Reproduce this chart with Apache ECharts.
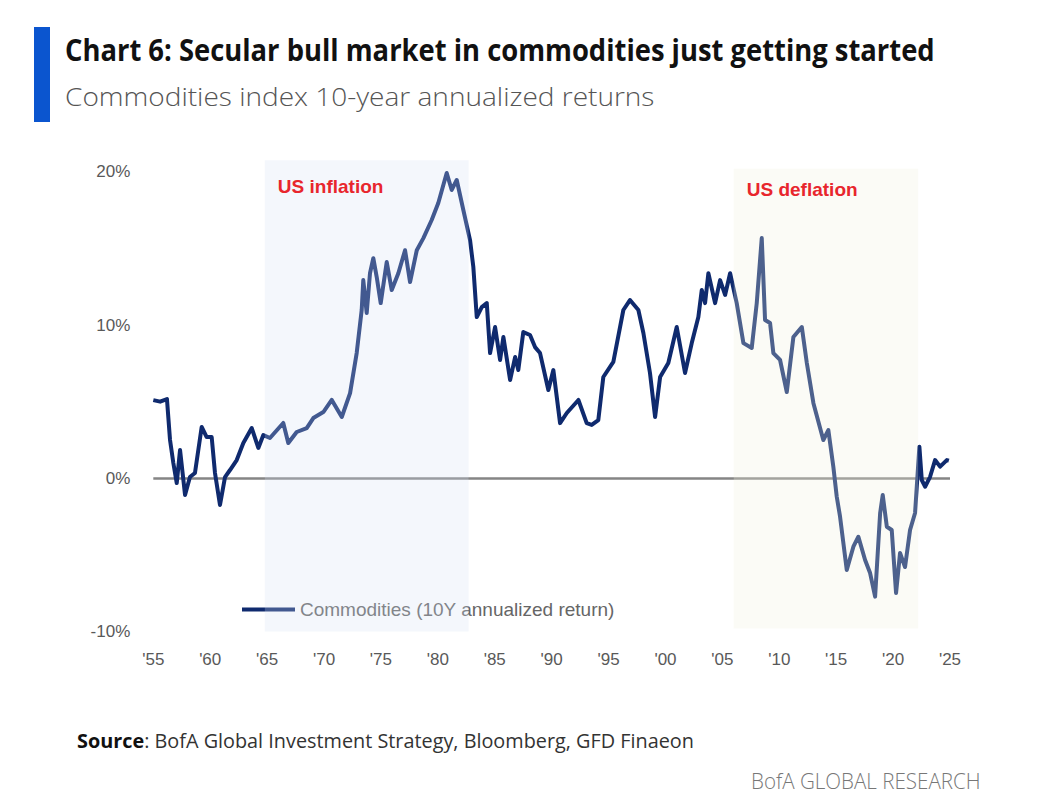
<!DOCTYPE html>
<html>
<head>
<meta charset="utf-8">
<title>Chart 6: Secular bull market in commodities</title>
<script src="https://cdn.jsdelivr.net/npm/echarts/dist/echarts.min.js"></script>
<style>
html, body { margin: 0; padding: 0; background: #fff; }
#main { width: 1049px; height: 808px; }
</style>
</head>
<body>
<div id="main"></div>
<script>
// 数据: 商品指数10年年化回报 (%)
var years = [
    1955.0, 1955.6, 1956.2, 1956.47, 1956.76, 1957.06, 1957.35, 1957.79, 1958.22, 1958.66,
    1959.25, 1959.69, 1960.13, 1960.42, 1960.86, 1961.3, 1961.74, 1962.33, 1962.91, 1963.65,
    1964.23, 1964.67, 1965.25, 1966.42, 1966.86, 1967.6, 1968.48, 1969.06, 1969.94, 1970.68,
    1971.56, 1972.29, 1972.87, 1973.31, 1973.45, 1973.75, 1974.04, 1974.33, 1974.63, 1974.98,
    1975.51, 1975.95, 1976.53, 1977.12, 1977.56, 1978.15, 1978.73, 1979.46, 1980.04, 1980.78,
    1981.22, 1981.66, 1982.24, 1982.83, 1983.12, 1983.42, 1983.86, 1984.3, 1984.59, 1985.03,
    1985.47, 1985.76, 1986.35, 1986.79, 1987.07, 1987.51, 1988.1, 1988.54, 1988.98, 1989.71,
    1990.15, 1990.74, 1991.33, 1992.35, 1993.08, 1993.52, 1994.1, 1994.54, 1995.42, 1996.3,
    1996.88, 1997.62, 1998.06, 1998.64, 1999.09, 1999.53, 2000.25, 2000.99, 2001.72, 2002.31,
    2002.89, 2003.19, 2003.48, 2003.77, 2004.36, 2004.8, 2005.24, 2005.68, 2006.26, 2006.85,
    2007.58, 2008.02, 2008.46, 2008.75, 2009.19, 2009.48, 2010.07, 2010.66, 2011.24, 2011.98,
    2012.42, 2013.0, 2013.87, 2014.31, 2014.75, 2015.05, 2015.34, 2015.93, 2016.51, 2016.95,
    2017.54, 2017.98, 2018.42, 2018.86, 2019.09, 2019.45, 2019.88, 2020.26, 2020.61, 2021.05,
    2021.49, 2021.93, 2022.31, 2022.52, 2022.81, 2023.25, 2023.69, 2024.13, 2024.72, 2024.9
];
var returns = [
    5.1, 5.0, 5.17, 2.5, 1.0, -0.31, 1.85, -1.09, 0.08, 0.35,
    3.35, 2.69, 2.69, 0.35, -1.74, 0.08, 0.54, 1.19, 2.3, 3.28,
    1.98, 2.82, 2.63, 3.61, 2.3, 3.02, 3.28, 3.93, 4.32, 5.11,
    4.0, 5.56, 8.17, 10.98, 12.93, 10.78, 13.38, 14.36, 13.13, 11.43,
    14.11, 12.28, 13.38, 14.88, 12.8, 14.88, 15.67, 16.85, 17.96, 19.92,
    18.81, 19.46, 17.5, 15.54, 13.78, 10.52, 11.17, 11.43, 8.17, 9.87,
    7.72, 9.22, 6.41, 7.91, 7.06, 9.54, 9.35, 8.56, 8.17, 5.76,
    7.06, 3.6, 4.26, 5.11, 3.6, 3.48, 3.8, 6.61, 7.59, 10.98,
    11.63, 10.98, 9.48, 6.87, 4.0, 6.61, 7.52, 9.87, 6.87, 8.82,
    10.52, 12.28, 11.43, 13.38, 11.43, 12.93, 11.96, 13.38, 11.43, 8.82,
    8.5, 11.43, 15.67, 10.33, 10.13, 8.17, 7.72, 5.63, 9.22, 9.87,
    7.52, 4.9, 2.5, 3.15, 0.76, -1.2, -2.5, -5.98, -4.46, -3.81,
    -5.33, -6.18, -7.72, -2.28, -1.09, -3.16, -3.37, -7.48, -4.87, -5.79,
    -3.37, -2.26, 2.06, -0.11, -0.55, 0.1, 1.19, 0.76, 1.19, 1.15
];
var seriesName = 'Commodities (10Y annualized return)';

// 坐标轴刻度
var xTicks = [1955, 1960, 1965, 1970, 1975, 1980, 1985, 1990, 1995, 2000, 2005, 2010, 2015, 2020, 2025];
var xTickLabels = ["'55", "'60", "'65", "'70", "'75", "'80", "'85", "'90", "'95", "'00", "'05", "'10", "'15", "'20", "'25"];
var yTicks = [-10, 0, 10, 20];
var yTickLabels = ['-10%', '0%', '10%', '20%'];

// 阴影区间
var periodNames = ['US inflation', 'US deflation'];
var periodStart = [1964.8, 2006.0];
var periodEnd = [1982.7, 2022.2];
var periodTop = [20.75, 20.2];
var periodBottom = [-10, -9.8];

(function () {
    var myCharts = echarts.init(document.getElementById('main'), null, { renderer: 'svg' });

    // 文字宽度 -> 横向缩放 (窄体字)
    var ctx = document.createElement('canvas').getContext('2d');
    function textWidth(text, font) {
        ctx.font = font;
        return ctx.measureText(text).width;
    }

    var titleText = 'Chart 6: Secular bull market in commodities just getting started';
    var subText = 'Commodities index 10-year annualized returns';
    var srcBold = 'Source';
    var srcRest = ': BofA Global Investment Strategy, Bloomberg, GFD Finaeon';
    var footText = 'BofA GLOBAL RESEARCH';

    var titleScale = 870 / textWidth(titleText, 'bold 31px "Open Sans"');
    var subScale = 590 / textWidth(subText, '300 26px "Open Sans"');
    var srcScale = 617 / (textWidth(srcBold, 'bold 20px "Open Sans"') + textWidth(srcRest, '20px "Open Sans"'));
    var footScale = 230 / textWidth(footText, '300 22px "Open Sans"');

    var shadeColors = ['rgba(212, 224, 242, 0.26)', 'rgba(240, 240, 222, 0.28)'];
    var labelOffsets = [[13, 17], [13, 11]];

    var areas = periodNames.map(function (name, i) {
        return [{
            name: name,
            xAxis: periodStart[i],
            yAxis: periodTop[i],
            itemStyle: { color: shadeColors[i] },
            label: { position: labelOffsets[i] }
        }, {
            xAxis: periodEnd[i],
            yAxis: periodBottom[i]
        }];
    });

    var labelFont = '"Liberation Sans", Arial, sans-serif';

    var option = {
        animation: false,
        backgroundColor: '#fff',
        grid: {
            left: 153.3,
            right: 99,
            top: 156.4,
            bottom: 176.4,
            outerBoundsMode: 'none'
        },
        legend: {
            show: true,
            left: 237,
            top: 595,
            icon: 'rect',
            itemWidth: 53,
            itemHeight: 4,
            data: [seriesName],
            selectedMode: false,
            textStyle: {
                color: '#666',
                fontSize: 19,
                fontFamily: labelFont
            }
        },
        xAxis: {
            type: 'value',
            min: 1955,
            max: 2025,
            interval: 5,
            axisLine: { show: false },
            axisTick: { show: false },
            splitLine: { show: false },
            axisLabel: {
                color: '#595959',
                fontSize: 17,
                fontFamily: labelFont,
                margin: 19,
                showMinLabel: true,
                showMaxLabel: true,
                formatter: function (v) {
                    var idx = xTicks.indexOf(Math.round(v));
                    return idx < 0 ? '' : xTickLabels[idx];
                }
            }
        },
        yAxis: {
            type: 'value',
            min: -10,
            max: 21,
            interval: 10,
            axisLine: { show: false },
            axisTick: { show: false },
            splitLine: { show: false },
            axisLabel: {
                color: '#595959',
                fontSize: 17,
                fontFamily: labelFont,
                margin: 23,
                formatter: function (v) {
                    var idx = yTicks.indexOf(v);
                    return idx < 0 ? '' : yTickLabels[idx];
                }
            }
        },
        series: [{
            name: seriesName,
            type: 'line',
            data: years.map(function (y, i) { return [y, returns[i]]; }),
            symbol: 'none',
            z: 2,
            lineStyle: { color: '#0f2a6e', width: 4, join: 'round' },
            itemStyle: { color: '#0f2a6e' },
            // 零线
            markLine: {
                z: 1,
                silent: true,
                symbol: 'none',
                label: { show: false },
                lineStyle: { color: '#858585', width: 2.5, type: 'solid' },
                data: [{ yAxis: 0 }]
            },
            // 阴影 (盖在线上面)
            markArea: {
                z: 5,
                silent: true,
                label: {
                    show: true,
                    color: '#e8262d',
                    fontSize: 19,
                    fontWeight: 'bold',
                    fontFamily: labelFont
                },
                data: areas
            }
        }],
        graphic: [{
            type: 'rect',
            shape: { x: 34, y: 27, width: 16, height: 95 },
            style: { fill: '#0b55cf' }
        }, {
            type: 'text',
            x: 65,
            y: 49,
            scaleX: titleScale,
            style: {
                text: titleText,
                font: 'bold 31px "Open Sans"',
                fill: '#111',
                verticalAlign: 'middle'
            }
        }, {
            type: 'text',
            x: 65,
            y: 96,
            scaleX: subScale,
            style: {
                text: subText,
                font: '300 26px "Open Sans"',
                fill: '#555',
                verticalAlign: 'middle'
            }
        }, {
            type: 'text',
            x: 77,
            y: 740,
            scaleX: srcScale,
            style: {
                text: '{b|' + srcBold + '}{r|' + srcRest + '}',
                verticalAlign: 'middle',
                rich: {
                    b: { fontFamily: 'Open Sans', fontWeight: 'bold', fontSize: 20, fill: '#111', color: '#111' },
                    r: { fontFamily: 'Open Sans', fontSize: 20, fill: '#333', color: '#333' }
                }
            }
        }, {
            type: 'text',
            x: 751,
            y: 780,
            scaleX: footScale,
            style: {
                text: footText,
                font: '300 22px "Open Sans"',
                fill: '#777',
                verticalAlign: 'middle'
            }
        }]
    };

    myCharts.setOption(option);
})();
</script>
</body>
</html>
